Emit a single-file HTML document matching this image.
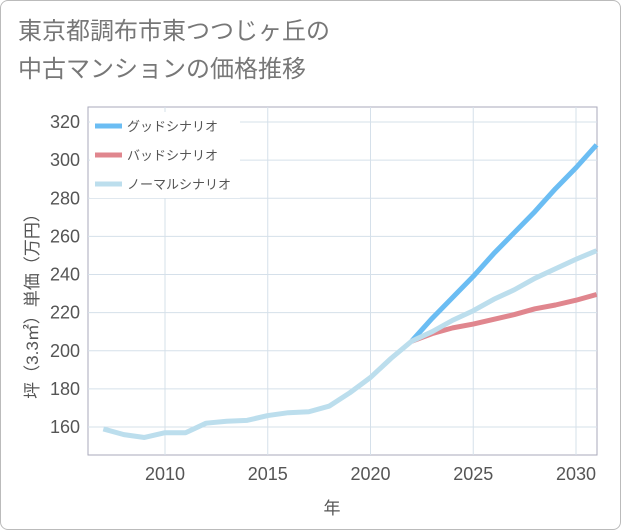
<!DOCTYPE html>
<html><head><meta charset="utf-8"><style>
body{margin:0;background:#fff;}
#wrap{position:relative;width:619px;height:528px;border:1px solid #bbb;border-radius:8px;background:#fff;overflow:hidden;font-family:"Liberation Sans","Noto Sans CJK JP",sans-serif;}
#title{position:absolute;left:17px;top:12px;font-size:24px;line-height:38px;color:#777;}
</style></head><body>
<div id="wrap">
<div id="title">東京都調布市東つつじヶ丘の<br>中古マンションの価格推移</div>
<svg id="chart" width="621" height="530" style="position:absolute;left:-1px;top:-1px"></svg>
</div>
<script>
const years=[2007,2008,2009,2010,2011,2012,2013,2014,2015,2016,2017,2018,2019,2020,2021,2022,2023,2024,2025,2026,2027,2028,2029,2030,2031];
const normal=[159,156,154.5,157,157,162,163,163.5,166,167.5,168,171,178,186,196,205,210,216,221,227,232,238,243,248,252.5];
const goodYears=[2022,2023,2024,2025,2026,2027,2028,2029,2030,2031];
const good=[205,217,228,239,251,262,273,285,296,308];
const bad=[205,209,212,214,216.5,219,222,224,226.5,229.5];
const yTicks=[160,180,200,220,240,260,280,300,320];
const xTicks=[2010,2015,2020,2025,2030];
const NS='http://www.w3.org/2000/svg';
const svg=document.getElementById('chart');
const L=88,R=597,T=107,B=455;
const xs=v=>165+(v-2010)*(576-165)/20;
const ys=v=>427-(v-160)*(427-122)/160;
function mk(tag,attrs,parent){const e=document.createElementNS(NS,tag);for(const k in attrs)e.setAttribute(k,attrs[k]);(parent||svg).appendChild(e);return e;}
const bg=mk('rect',{x:L,y:T,width:R-L,height:B-T,fill:'#fff',stroke:'#aab',"stroke-width":1});


yTicks.forEach(v=>{
 const g=mk('line',{x1:L,x2:R,y1:ys(v),y2:ys(v),stroke:'#d5e0ea',"stroke-width":1});
 
 
 const t=mk('text',{x:L-8,y:ys(v)+6,"text-anchor":"end","font-size":18,fill:'#555'});
 t.textContent=v;
 
 
});
xTicks.forEach(v=>{
 const g=mk('line',{x1:xs(v),x2:xs(v),y1:T,y2:B,stroke:'#d5e0ea',"stroke-width":1});
 
 
 const t=mk('text',{x:xs(v),y:B+25,"text-anchor":"middle","font-size":18,fill:'#555'});
 t.textContent=v;
 
 
});
function line(xv,yv,color,name){
 const p=mk('polyline',{points:xv.map((x,i)=>xs(x)+','+ys(yv[i])).join(' '),fill:'none',stroke:color,"stroke-width":5,"stroke-linejoin":"round"});
 
 
}
line(goodYears,good,'#6bbdf3','good-scenario-line');
line(goodYears,bad,'#e0868e','bad-scenario-line');
line(years,normal,'#bcdeed','normal-scenario-line');
const leg=[['グッドシナリオ','#6bbdf3'],['バッドシナリオ','#e0868e'],['ノーマルシナリオ','#bcdeed']];
mk('rect',{x:90,y:112,width:150,height:86,fill:'#fff'});
leg.forEach((d,i)=>{
 const y=126+i*29;
 const r=mk('line',{x1:95,x2:122,y1:y,y2:y,stroke:d[1],"stroke-width":5});
 
 
 const t=mk('text',{x:127,y:y+5,"font-size":13,fill:'#555'});
 t.textContent=d[0];
 
 
});
const xt=mk('text',{x:332,y:514,"text-anchor":"middle","font-size":17,fill:'#555'});
xt.textContent='年';


const yt=mk('text',{x:0,y:0,"text-anchor":"middle","font-size":17,fill:'#555',transform:'translate(38,302) rotate(-90)'});
yt.textContent='坪（3.3㎡）単価（万円）';


</script>
</body></html>
